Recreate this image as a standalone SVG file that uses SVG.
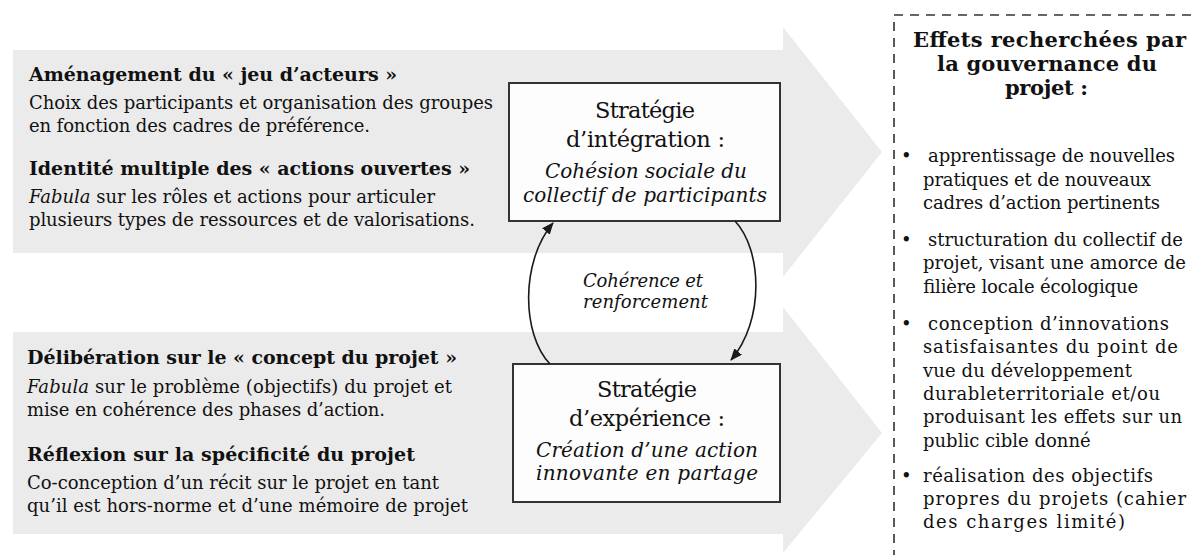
<svg xmlns="http://www.w3.org/2000/svg" width="1192" height="555" viewBox="0 0 1192 555">
<defs>
<style>
.t{font-family:"DejaVu Serif","Liberation Serif",serif;font-size:18px;fill:#111}
.b{font-weight:bold;font-size:19px}
.i{font-style:italic}
.box{fill:#fdfdfd;stroke:#333;stroke-width:2}
.band{fill:#ebebeb}
.big{font-size:22.5px}
.mid{font-size:20px}
.ttl{font-weight:bold;font-size:21px}
.conn{fill:none;stroke:#1a1a1a;stroke-width:1.6}
</style>
<marker id="ah" viewBox="0 0 12 10" refX="11" refY="5" markerWidth="12" markerHeight="10" markerUnits="userSpaceOnUse" orient="auto">
<path d="M0,0 L12,5 L0,10 z" fill="#1a1a1a"/>
</marker>
</defs>
<rect width="1192" height="555" fill="#fff"/>

<g id="arrow-top">
<polygon class="band" points="13,50 783,50 783,27 882,152 783,277 783,253 13,253"/>
<text class="t b" x="29" y="81" textLength="368">Aménagement du « jeu d’acteurs »</text>
<text class="t" x="29" y="109" textLength="464">Choix des participants et organisation des groupes</text>
<text class="t" x="29" y="132" textLength="341">en fonction des cadres de préférence.</text>
<text class="t b" x="29" y="175" textLength="441">Identité multiple des « actions ouvertes »</text>
<text class="t" x="29" y="203" textLength="406"><tspan class="i">Fabula</tspan> sur les rôles et actions pour articuler</text>
<text class="t" x="29" y="226" textLength="446">plusieurs types de ressources et de valorisations.</text>
</g>

<g id="arrow-bottom">
<polygon class="band" points="13,332 783,332 783,307 882,433 783,553 783,534 13,534"/>
<text class="t b" x="27" y="364" textLength="430">Délibération sur le « concept du projet »</text>
<text class="t" x="27" y="393" textLength="425"><tspan class="i">Fabula</tspan> sur le problème (objectifs) du projet et</text>
<text class="t" x="27" y="416" textLength="358">mise en cohérence des phases d’action.</text>
<text class="t b" x="27" y="461" textLength="388">Réflexion sur la spécificité du projet</text>
<text class="t" x="27" y="489" textLength="412">Co-conception d’un récit sur le projet en tant</text>
<text class="t" x="27" y="512" textLength="441">qu’il est hors-norme et d’une mémoire de projet</text>
</g>

<g id="strategie-integration">
<rect class="box" x="509" y="83" width="271" height="138"/>
<text class="t big" x="595" y="118" textLength="100">Stratégie</text>
<text class="t big" x="566" y="147" textLength="159">d’intégration :</text>
<text class="t mid i" x="545" y="178" textLength="202">Cohésion sociale du</text>
<text class="t mid i" x="523" y="202" textLength="244">collectif de participants</text>
</g>

<g id="strategie-experience">
<rect class="box" x="513" y="364" width="267" height="138"/>
<text class="t big" x="597" y="397" textLength="100">Stratégie</text>
<text class="t big" x="569" y="426" textLength="156">d’expérience :</text>
<text class="t mid i" x="536" y="457" textLength="222">Création d’une action</text>
<text class="t mid i" x="536" y="480" textLength="222">innovante en partage</text>
</g>

<g id="connectors">
<path class="conn" d="M550,364 C522,335 520,262 553,223" marker-end="url(#ah)"/>
<path class="conn" d="M735,221 C762,250 765,320 731,360" marker-end="url(#ah)"/>
<text class="t i" x="583" y="287" textLength="120">Cohérence et</text>
<text class="t i" x="583" y="308" textLength="125">renforcement</text>
</g>

<g id="effets">
<rect x="894" y="15" width="320" height="560" fill="none" stroke="#333" stroke-width="1.6" stroke-dasharray="9 7"/>
<text class="t ttl" x="913" y="47" textLength="273">Effets recherchées par</text>
<text class="t ttl" x="937" y="71" textLength="220">la gouvernance du</text>
<text class="t ttl" x="1005" y="95" textLength="83">projet :</text>
<text class="t" x="901" y="162" font-size="16">•</text>
<text class="t" x="928" y="162" textLength="247">apprentissage de nouvelles</text>
<text class="t" x="923" y="186" textLength="228">pratiques et de nouveaux</text>
<text class="t" x="923" y="209" textLength="237">cadres d’action pertinents</text>
<text class="t" x="901" y="246" font-size="16">•</text>
<text class="t" x="928" y="246" textLength="255">structuration du collectif de</text>
<text class="t" x="923" y="269" textLength="263">projet, visant une amorce de</text>
<text class="t" x="923" y="293" textLength="215">filière locale écologique</text>
<text class="t" x="901" y="330" font-size="16">•</text>
<text class="t" x="928" y="330" textLength="241">conception d’innovations</text>
<text class="t" x="923" y="353" textLength="255">satisfaisantes du point de</text>
<text class="t" x="923" y="377" textLength="209">vue du développement</text>
<text class="t" x="923" y="400" textLength="237">durableterritoriale et/ou</text>
<text class="t" x="923" y="423" textLength="259">produisant les effets sur un</text>
<text class="t" x="923" y="447">public cible donné</text>
<text class="t" x="901" y="482" font-size="16">•</text>
<text class="t" x="923" y="482" textLength="230">réalisation des objectifs</text>
<text class="t" x="923" y="505" textLength="263">propres du projets (cahier</text>
<text class="t" x="923" y="528" textLength="202">des charges limité)</text>
</g>
</svg>
